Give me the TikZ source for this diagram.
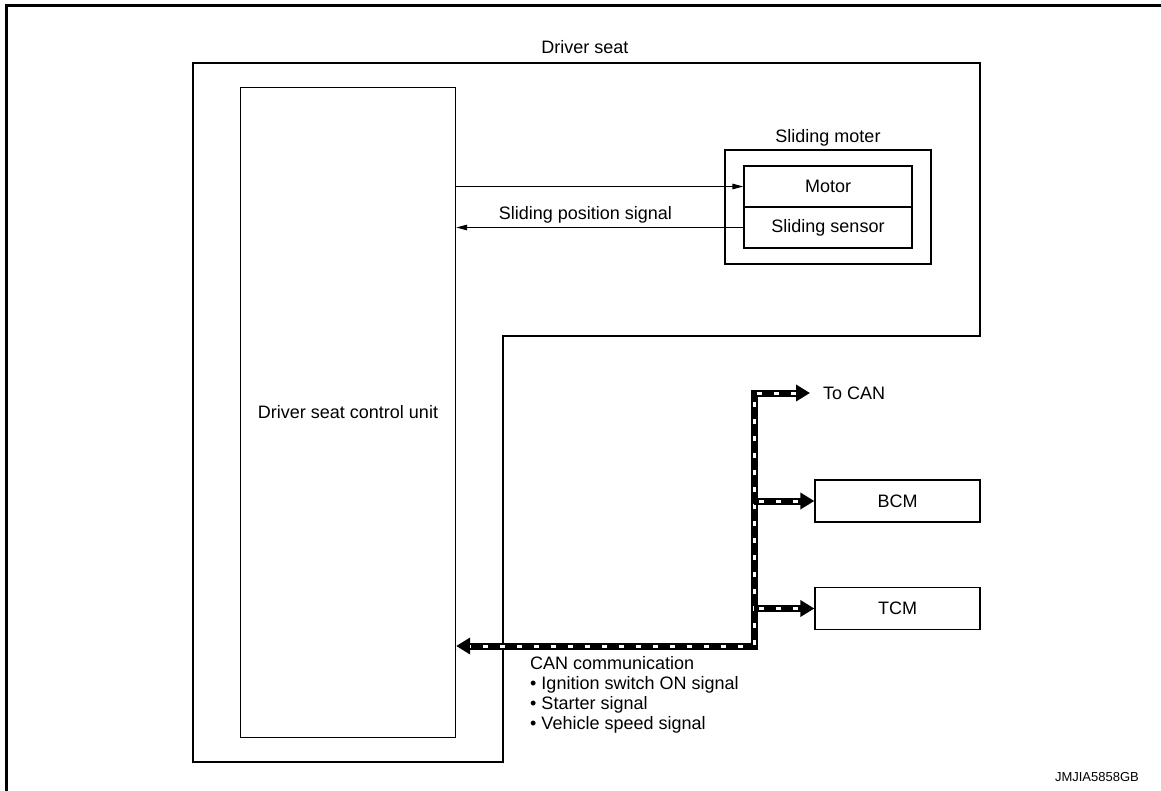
\documentclass[tikz,border=0pt]{standalone}
\usepackage{fontspec}
\setmainfont{Liberation Sans}
\usetikzlibrary{arrows.meta}
\tikzset{
  sigtip/.tip={Triangle[length=11pt,width=5.5pt]},
  cantip/.tip={Triangle[length=14pt,width=16pt]},
  unit/.style={draw, line width=1.3pt, inner sep=0pt},
  sig/.style={line width=1.3pt, -sigtip},
  canline/.style={line width=7pt},
  candash/.style={draw=white, line width=3pt, dash pattern=on 5pt off 12pt},
}
\begin{document}
\begin{tikzpicture}[x=1pt, y=-1pt, font=\fontsize{18}{20}\selectfont]
    \useasboundingbox (0,0) rectangle (1161,791);
    \draw[line width=3pt] (1161,5.5) -- (6.5,5.5) -- (6.5,791);

    \draw[line width=1.3pt] (193,63) -- (980,63) -- (980,336) -- (503,336) -- (503,762) -- (193,762) -- cycle;
    \node (seat) at (585,47) {Driver seat};

    \node[unit, minimum width=215pt, minimum height=650pt] (dscu) at (348,412.5) {Driver seat control unit};

    \node[unit, minimum width=206pt, minimum height=114pt] (slm) at (828,207) {};
    \node[above] (slmlabel) at (slm.north) {Sliding moter};
    \node[unit, minimum width=168pt, minimum height=41pt] (motor) at (828,186.5) {Motor};
    \node[unit, minimum width=168pt, minimum height=41pt] (sensor) at (828,227.5) {Sliding sensor};

    \draw[sig] (dscu.east |- motor.west) -- (motor.west);
    \draw[sig] (sensor.west) -- node[above, pos=0.55] (possig) {Sliding position signal} (dscu.east |- sensor.west);

    \coordinate (bustop) at (754,393);
    \coordinate (busbot) at (754,646);
    \node[right, inner sep=0pt] (tocan) at (823,393) {To CAN};
    \node[unit, minimum width=165pt, minimum height=42pt] (bcm) at (897.5,501) {BCM};
    \node[unit, minimum width=165pt, minimum height=42pt] (tcm) at (897.5,608.5) {TCM};

    \draw[canline, cantip-cantip] ([xshift=-13pt]tocan.west) -- (bustop) -- (busbot) -- (dscu.east |- busbot);
    \draw[candash] ([xshift=-27pt]tocan.west) -- (bustop) -- (busbot) -- ([xshift=14pt]dscu.east |- busbot);
    \draw[canline, -cantip] (bustop |- bcm.west) -- (bcm.west);
    \draw[candash] ([xshift=5pt]bustop |- bcm.west) -- ([xshift=-14pt]bcm.west);
    \draw[canline, -cantip] (bustop |- tcm.west) -- (tcm.west);
    \draw[candash] ([xshift=5pt]bustop |- tcm.west) -- ([xshift=-14pt]tcm.west);

    \node[below right, align=left, inner sep=0pt] (cantext) at (530,656) {CAN communication\\\textbullet\ Ignition switch ON signal\\\textbullet\ Starter signal\\\textbullet\ Vehicle speed signal};

    \node[left, inner sep=0pt, font=\fontsize{13}{15}\selectfont] (code) at (1139,777) {JMJIA5858GB};
\end{tikzpicture}
\end{document}
